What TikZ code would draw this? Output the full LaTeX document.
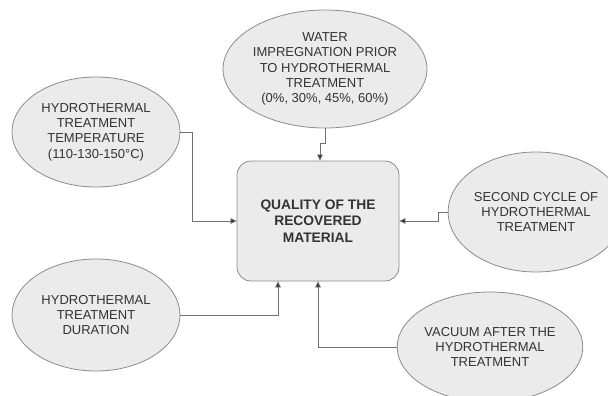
\documentclass[tikz,border=0pt]{standalone}
\usepackage{fontspec}
\setmainfont{Liberation Sans}
\usetikzlibrary{shapes.geometric,arrows.meta,calc}
\definecolor{fillg}{HTML}{EBEBEB}
\definecolor{lineg}{HTML}{8C8C8C}
\definecolor{txtg}{HTML}{333333}
\tikzset{
  oval/.style={ellipse, draw=lineg, fill=fillg, line width=0.8pt, inner sep=0pt,
    align=center, text=txtg, font=\fontsize{13}{15.3}\selectfont},
  centerbox/.style={rectangle, rounded corners=14pt, draw=lineg, fill=fillg, line width=0.8pt,
    minimum width=162pt, minimum height=120pt, align=center, text=txtg,
    font=\fontsize{13.8}{16.8}\selectfont\bfseries},
  conn/.style={draw=lineg!80!black, line width=0.7pt, -{Triangle[length=6pt,width=5.5pt,fill=txtg]}}
}
\begin{document}
\begin{tikzpicture}[x=1pt,y=-1pt]
\clip (0,0) rectangle (608,396);
\fill[white] (0,0) rectangle (608,396);
\node[centerbox] (q) at (318,221) {QUALITY OF THE\\RECOVERED\\MATERIAL};
\node[oval, minimum width=176pt, minimum height=118pt] (w) at (325,69)
  {WATER\\IMPREGNATION PRIOR\\TO HYDROTHERMAL\\TREATMENT\\(0\%, 30\%, 45\%, 60\%)};
\node[oval, minimum width=168pt, minimum height=110pt] (t) at (96,132)
  {HYDROTHERMAL\\TREATMENT\\TEMPERATURE\\(110-130-150°C)};
\node[oval, minimum width=168pt, minimum height=120pt] (s) at (536,212)
  {SECOND CYCLE OF\\HYDROTHERMAL\\TREATMENT};
\node[oval, minimum width=168pt, minimum height=112pt] (d) at (96,315)
  {HYDROTHERMAL\\TREATMENT\\DURATION};
\node[oval, minimum width=166pt, minimum height=110pt] (v) at (490,347)
  {VACUUM AFTER THE\\HYDROTHERMAL\\TREATMENT};
\coordinate (wj) at (320,143);
\coordinate (tj) at (192,132);
\coordinate (sj) at (438,212);
\draw[conn] (w.south) |- (wj) -- (wj |- q.north);
\draw[conn] (t.east) -- (tj) |- (q.west);
\draw[conn] (s.west) -- (sj) |- (q.east);
\draw[conn] (d.east) -| ([xshift=-40pt]q.south);
\draw[conn] (v.west) -| (q.south);
\end{tikzpicture}
\end{document}
